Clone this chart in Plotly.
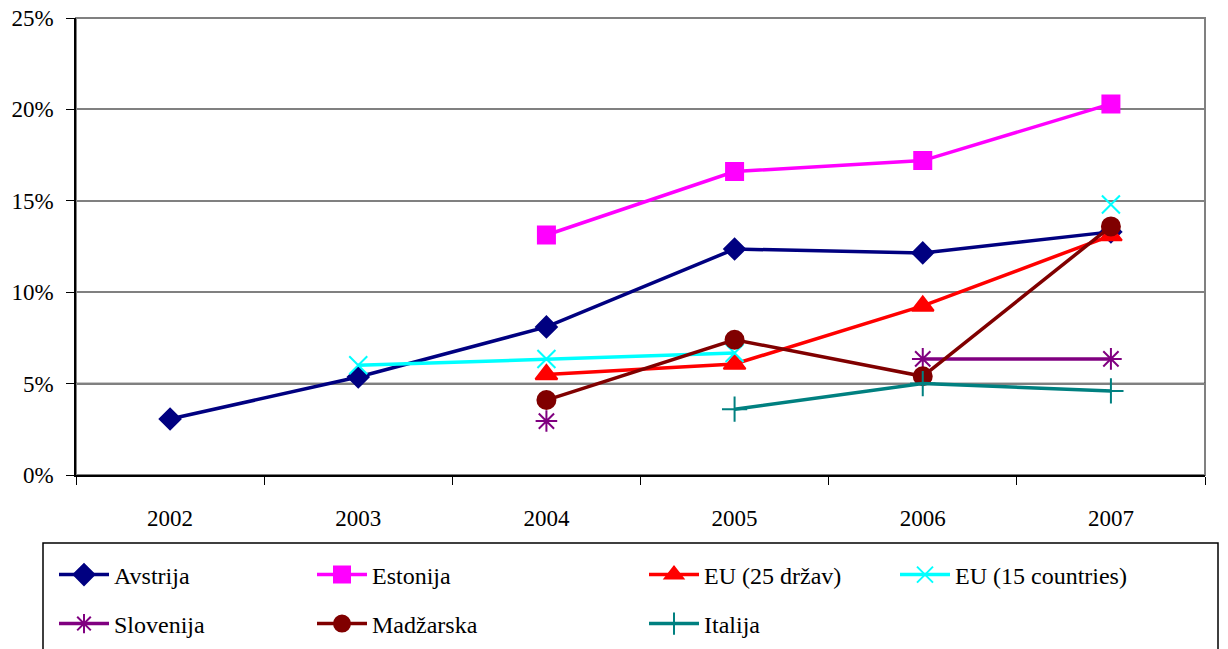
import plotly.graph_objects as go

years = ["2002", "2003", "2004", "2005", "2006", "2007"]

avstrija = [0.0306, 0.0536, 0.081, 0.1236, 0.1215, 0.133]
estonija = [None, None, 0.1313, 0.166, 0.172, 0.203]
eu25 = [None, None, 0.055, 0.0607, 0.0925, 0.131]
eu15 = [None, 0.060, 0.0635, 0.0667, None, 0.148]
slovenija = [None, None, 0.0295, None, 0.0635, 0.0635]
madzarska = [None, None, 0.041, 0.074, 0.054, 0.136]
italija = [None, None, None, 0.036, 0.050, 0.046]

series = [
    ("Avstrija", avstrija, "#000080", "diamond", 16),
    ("Estonija", estonija, "#FF00FF", "square", 17),
    ("EU (25 držav)", eu25, "#FF0000", "triangle-up", 19),
    ("EU (15 countries)", eu15, "#00FFFF", "x-thin-open", 18),
    ("Slovenija", slovenija, "#800080", "asterisk-open", 18),
    ("Madžarska", madzarska, "#800000", "circle", 18),
    ("Italija", italija, "#008080", "cross-thin-open", 18),
]

FONT = "Liberation Serif, Times New Roman, serif"

# plot-area geometry (pixels)
L, R, T, B = 76, 1205, 18, 475
PW, PH = R - L, B - T

def px_x(p):
    return (p - L) / PW

def px_y(p):
    return (B - p) / PH

# legend item placement (column line starts, row centres)
col_x = [59, 317, 649, 900]
row_y = [575, 624]
slots = [(0, 0), (1, 0), (2, 0), (3, 0), (0, 1), (1, 1), (2, 1)]

fig = go.Figure()
legends = {}
for i, (name, vals, color, sym, size) in enumerate(series):
    lname = "legend" if i == 0 else f"legend{i + 1}"
    fig.add_trace(go.Scatter(
        x=years, y=vals, name=name, mode="lines+markers",
        line=dict(color=color, width=3.5),
        marker=dict(symbol=sym, size=size, color=color,
                    line=dict(color=color, width=2)),
        connectgaps=False, legend=lname,
    ))
    c, r = slots[i]
    legends[lname] = dict(
        x=px_x(col_x[c] - 5), xanchor="left",
        y=px_y(row_y[r]), yanchor="middle",
        bgcolor="rgba(0,0,0,0)", borderwidth=0,
        font=dict(family=FONT, size=24, color="black"),
        itemwidth=50,
    )

fig.update_layout(
    width=1228, height=649,
    margin=dict(l=L, r=1228 - R, t=T, b=649 - B, autoexpand=False),
    paper_bgcolor="white", plot_bgcolor="white",
    font=dict(family=FONT, size=23, color="black"),
    showlegend=True,
    shapes=[
        dict(type="rect", xref="paper", yref="paper", x0=0, x1=1, y0=0, y1=1,
             line=dict(color="#808080", width=2), layer="below"),
        dict(type="line", xref="paper", yref="y", x0=0, x1=1, y0=0.05, y1=0.05,
             line=dict(color="#202020", width=1.5), layer="below"),
        dict(type="rect", xref="paper", yref="paper",
             x0=px_x(43), x1=px_x(1218), y0=px_y(651), y1=px_y(543),
             line=dict(color="black", width=1.5), layer="below"),
    ],
    **legends,
)

fig.update_xaxes(
    type="category", range=[-0.5, 5.5],
    showline=True, linecolor="black", linewidth=1.5,
    ticks="outside", tickson="boundaries", ticklen=8, tickcolor="black",
    showgrid=False, ticklabelstandoff=22,
    tickfont=dict(family=FONT, size=23),
)
fig.update_yaxes(
    range=[0, 0.25], dtick=0.05, tickformat=".0%",
    showline=True, linecolor="black", linewidth=1.5,
    ticks="outside", ticklen=8, tickcolor="black",
    showgrid=True, gridcolor="#808080", gridwidth=1.5,
    zeroline=False, ticklabelstandoff=8,
    tickfont=dict(family=FONT, size=23),
)

fig.write_html(
    "out.html",
    config={"displayModeBar": False},
    post_script="document.body.style.margin='0';document.body.style.overflow='hidden';",
)
